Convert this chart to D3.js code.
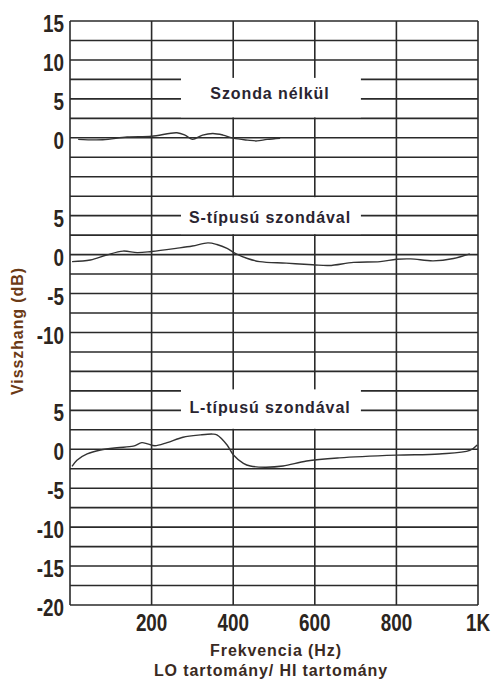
<!DOCTYPE html>
<html>
<head>
<meta charset="utf-8">
<style>
  body { margin: 0; background: #fff; }
  text { font-family: "Liberation Sans", Arial, sans-serif; }
</style>
</head>
<body>
<svg id="chart" width="491" height="679"></svg>
<script src="https://cdn.jsdelivr.net/npm/d3@7"></script>
<script>
// frequency response (Hz, dB)
const noProbe = [[20,-0.2],[80,-0.25],[140,0.1],[200,0.2],[262,0.65],[282,0.35],[300,-0.2],[325,0.35],[350,0.55],[375,0.35],[400,-0.05],[435,-0.3],[458,-0.4],[483,-0.2],[515,-0.05]]
const sProbe = [[5,-0.9],[50,-0.7],[90,-0.05],[130,0.45],[165,0.25],[200,0.4],[260,0.8],[300,1.1],[338,1.5],[360,1.3],[385,0.8],[405,0.15],[435,-0.5],[465,-0.9],[530,-1.1],[595,-1.3],[635,-1.4],[695,-1.0],[760,-0.9],[800,-0.6],[835,-0.55],[890,-0.8],[940,-0.5],[980,0.1]]
const lProbe = [[5,-2.2],[17,-1.4],[42,-0.6],[75,-0.1],[115,0.2],[155,0.4],[176,0.85],[190,0.7],[208,0.45],[238,0.85],[277,1.55],[320,1.85],[350,1.95],[360,1.85],[385,0.55],[400,-0.7],[425,-1.8],[442,-2.15],[478,-2.3],[522,-2.15],[580,-1.5],[660,-1.1],[800,-0.75],[905,-0.6],[980,-0.15],[998,0.55]]

const panelTitles = ["Szonda nélkül", "S-típusú szondával", "L-típusú szondával"]
// each panel sits on one shared dB grid, shifted by this much
const panelOffsets = [40, 25, 0]
const panelTicks = [[15,10,5,0],[5,0,-5,-10],[5,0,-5,-10,-15,-20]]
const xTicks = [0,200,400,600,800,1000]
const xTickLabels = ["","200","400","600","800","1K"]

let svg = d3.select("#chart")

let x = d3.scaleLinear().domain([0,1000]).range([70,478])
let y = d3.scaleLinear().domain([-20,55]).range([605,21])

let grid = svg.append("g").attr("stroke", "#2a2a2a").attr("stroke-width", 1.6)

grid.selectAll(".h").data(d3.range(-20, 55.01, 2.5))
  .enter().append("line")
  .attr("x1", x(0)).attr("x2", x(1000))
  .attr("y1", d => y(d)).attr("y2", d => y(d))

grid.selectAll(".v").data(xTicks)
  .enter().append("line")
  .attr("x1", d => x(d)).attr("x2", d => x(d))
  .attr("y1", y(55)).attr("y2", y(-20))

// white label boxes cut into the grid
const boxes = [
  {top: 47.5, bottom: 42.5, inset: -1.5, ty: 45.75},
  {top: 32.5, bottom: 27.5, inset: 1, ty: 29.8},
  {top: 7.5, bottom: 2.5, inset: -1.5, ty: 5.4}
]
svg.selectAll(".box").data(boxes)
  .enter().append("rect")
  .attr("x", x(272)).attr("width", x(713) - x(272))
  .attr("y", d => y(d.top) + d.inset)
  .attr("height", d => y(d.bottom) - 1 - (y(d.top) + d.inset))
  .attr("fill", "#fff")

svg.selectAll(".ptitle").data(panelTitles)
  .enter().append("text")
  .attr("x", 270)
  .attr("y", (d, i) => y(boxes[i].ty))
  .attr("dy", "0.35em")
  .attr("text-anchor", "middle")
  .attr("font-size", 16).attr("font-weight", "bold")
  .attr("letter-spacing", 0.9)
  .attr("fill", "#2a2430")
  .text(d => d)

// curves
let line = d3.line().curve(d3.curveCatmullRom)
let series = [noProbe, sProbe, lProbe]
series.forEach((s, i) => {
  svg.append("path")
    .attr("d", line(s.map(p => [x(p[0]), y(p[1] + panelOffsets[i])])))
    .attr("fill", "none")
    .attr("stroke", "#333")
    .attr("stroke-width", 1.4)
})

// y tick labels, condensed bold
panelTicks.forEach((ticks, i) => {
  svg.selectAll(".yt" + i).data(ticks)
    .enter().append("text")
    .attr("transform", d => `translate(64,${y(d + panelOffsets[i]) + 3}) scale(0.82,1)`)
    .attr("dy", "0.35em")
    .attr("text-anchor", "end")
    .attr("font-size", 23).attr("font-weight", "bold")
    .attr("fill", "#2b2520")
    .text(d => d)
})

svg.selectAll(".xt").data(xTicks)
  .enter().append("text")
  .attr("transform", d => `translate(${x(d)},${623}) scale(0.82,1)`)
  .attr("dy", "0.35em")
  .attr("text-anchor", "middle")
  .attr("font-size", 23).attr("font-weight", "bold")
  .attr("fill", "#2b2520")
  .text((d, i) => xTickLabels[i])

svg.append("text")
  .attr("transform", "translate(17,331) rotate(-90)")
  .attr("dy", "0.35em")
  .attr("text-anchor", "middle")
  .attr("font-size", 16).attr("font-weight", "bold")
  .attr("letter-spacing", 0.9)
  .attr("fill", "#6b3a16")
  .text("Visszhang (dB)")

svg.append("text")
  .attr("x", 276).attr("y", 650)
  .attr("dy", "0.35em")
  .attr("text-anchor", "middle")
  .attr("font-size", 16).attr("font-weight", "bold")
  .attr("letter-spacing", 0.9)
  .attr("fill", "#3a2a22")
  .text("Frekvencia (Hz)")

svg.append("text")
  .attr("x", 271).attr("y", 670)
  .attr("dy", "0.35em")
  .attr("text-anchor", "middle")
  .attr("font-size", 16).attr("font-weight", "bold")
  .attr("letter-spacing", 0.9)
  .attr("fill", "#3a2a22")
  .text("LO tartomány/ HI tartomány")
</script>
</body>
</html>
